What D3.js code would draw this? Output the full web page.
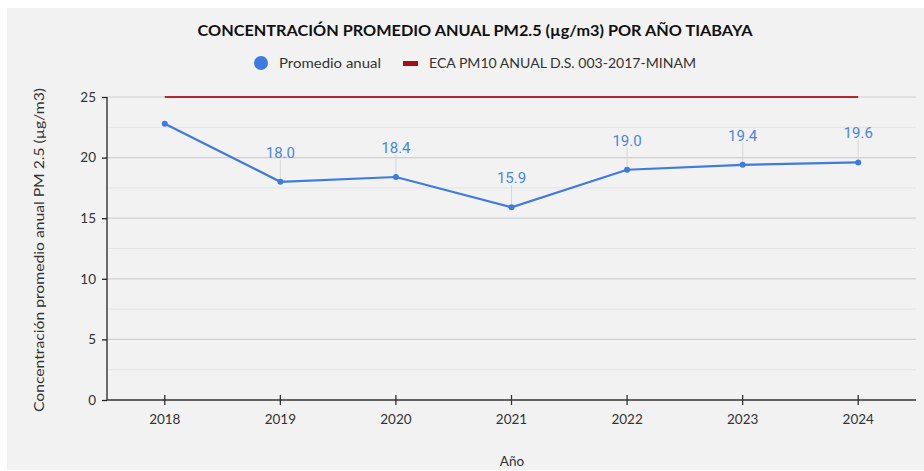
<!DOCTYPE html>
<html><head><meta charset="utf-8">
<script src="https://cdn.jsdelivr.net/npm/d3@7"></script>
<style>body{margin:0;background:#fff;} svg{display:block;}</style>
</head><body>
<svg id="c" width="924" height="471"></svg>
<script>
const years = ["2018","2019","2020","2021","2022","2023","2024"];
const promedio = [22.8, 18.0, 18.4, 15.9, 19.0, 19.4, 19.6];
const eca = [25, 25, 25, 25, 25, 25, 25];
const yTicks = [0, 5, 10, 15, 20, 25];
const yMinor = [2.5, 7.5, 12.5, 17.5, 22.5];
const title = "CONCENTRACIÓN PROMEDIO ANUAL PM2.5 (µg/m3) POR AÑO TIABAYA";
const legendLabels = ["Promedio anual", "ECA PM10 ANUAL D.S. 003-2017-MINAM"];
const yLabel = "Concentración promedio anual PM 2.5 (µg/m3)";
const xLabel = "Año";

const svg = d3.select("#c");
const font = "Lato, 'Open Sans', sans-serif";
svg.append("rect").attr("x",7).attr("y",8).attr("width",917).attr("height",462).attr("fill","#f2f2f2");

const L=107, R=916, T=97, B=400;
const x = d3.scaleBand().domain(years).range([L, R]);
const y = d3.scaleLinear().domain([0,25]).range([B, T]);
const cx = d => x(d) + x.bandwidth()/2;

// grid
svg.append("g").selectAll("line").data(yMinor).join("line")
  .attr("x1",L).attr("x2",R).attr("y1",d=>y(d)).attr("y2",d=>y(d))
  .attr("stroke","#e3e3e3").attr("stroke-width",1);
svg.append("g").selectAll("line").data(yTicks.filter(d=>d>0)).join("line")
  .attr("x1",L).attr("x2",R).attr("y1",d=>y(d)).attr("y2",d=>y(d))
  .attr("stroke","#d0d0d0").attr("stroke-width",1.2);

// axes
const ya = svg.append("g").attr("transform",`translate(${L},0)`)
  .call(d3.axisLeft(y).tickValues(yTicks).tickSize(5).tickPadding(6));
ya.select(".domain").attr("stroke","#222").attr("stroke-width",1.3).attr("d",`M0,${T}V${B}`);
ya.selectAll(".tick line").attr("stroke","#222").attr("stroke-width",1.3);
ya.selectAll(".tick text").attr("font-family",font).attr("font-size",13.5).attr("fill","#333");

const xa = svg.append("g").attr("transform",`translate(0,${B})`)
  .call(d3.axisBottom(x).tickSize(0).tickPadding(14));
xa.select(".domain").attr("stroke","#333").attr("stroke-width",1.3).attr("d",`M${L},0H${R}`);
xa.selectAll(".tick").append("line").attr("y1",-5).attr("y2",5).attr("stroke","#333").attr("stroke-width",1.3);
xa.selectAll(".tick text").attr("font-family",font).attr("font-size",13.5).attr("fill","#333");

// ECA line
svg.append("path").datum(eca)
  .attr("d", d3.line().x((d,i)=>cx(years[i])).y(d=>y(d)))
  .attr("fill","none").attr("stroke","#b5262a").attr("stroke-width",2);

// leader lines and labels
const lab = promedio.map((v,i)=>({yr:years[i], v, i})).filter(d=>d.i>0);
svg.append("g").selectAll("line").data(lab).join("line")
  .attr("x1",d=>cx(d.yr)).attr("x2",d=>cx(d.yr))
  .attr("y1",d=>y(d.v)-3).attr("y2",d=>y(d.v)-22)
  .attr("stroke","#d6d6d6").attr("stroke-width",1);
svg.append("g").selectAll("text").data(lab).join("text")
  .attr("x",d=>cx(d.yr)).attr("y",d=>y(d.v)-24)
  .attr("text-anchor","middle").attr("font-family","Roboto, sans-serif").attr("font-size",15)
  .attr("fill","#4a86e0").text(d=>d.v.toFixed(1));

// series line
svg.append("path").datum(promedio)
  .attr("d", d3.line().x((d,i)=>cx(years[i])).y(d=>y(d)))
  .attr("fill","none").attr("stroke","#3d7be0").attr("stroke-width",2.2);
svg.append("g").selectAll("circle").data(promedio).join("circle")
  .attr("cx",(d,i)=>cx(years[i])).attr("cy",d=>y(d)).attr("r",3)
  .attr("fill","#3d7be0");

// title
svg.append("text").attr("x",475).attr("y",36).attr("text-anchor","middle")
  .attr("font-family",font).attr("font-weight","bold").attr("font-size",15.5).attr("fill","#111")
  .attr("textLength",555).attr("lengthAdjust","spacingAndGlyphs").text(title);

// legend
svg.append("circle").attr("cx",261).attr("cy",63).attr("r",7).attr("fill","#3d7be0");
svg.append("text").attr("x",279).attr("y",68).attr("font-family",font).attr("font-size",13.5).attr("fill","#333")
  .attr("textLength",102).attr("lengthAdjust","spacingAndGlyphs").text(legendLabels[0]);
svg.append("rect").attr("x",403).attr("y",61).attr("width",15).attr("height",5).attr("fill","#a50f15");
svg.append("text").attr("x",429).attr("y",68).attr("font-family",font).attr("font-size",13.5).attr("fill","#333")
  .attr("textLength",267).attr("lengthAdjust","spacingAndGlyphs").text(legendLabels[1]);

// axis titles
svg.append("text").attr("transform",`translate(44,250) rotate(-90)`).attr("text-anchor","middle")
  .attr("font-family",font).attr("font-size",13.5).attr("fill","#333")
  .attr("textLength",324).attr("lengthAdjust","spacingAndGlyphs").text(yLabel);
svg.append("text").attr("x",512).attr("y",466).attr("text-anchor","middle")
  .attr("font-family",font).attr("font-size",13.5).attr("fill","#333").text(xLabel);
</script>
</body></html>
